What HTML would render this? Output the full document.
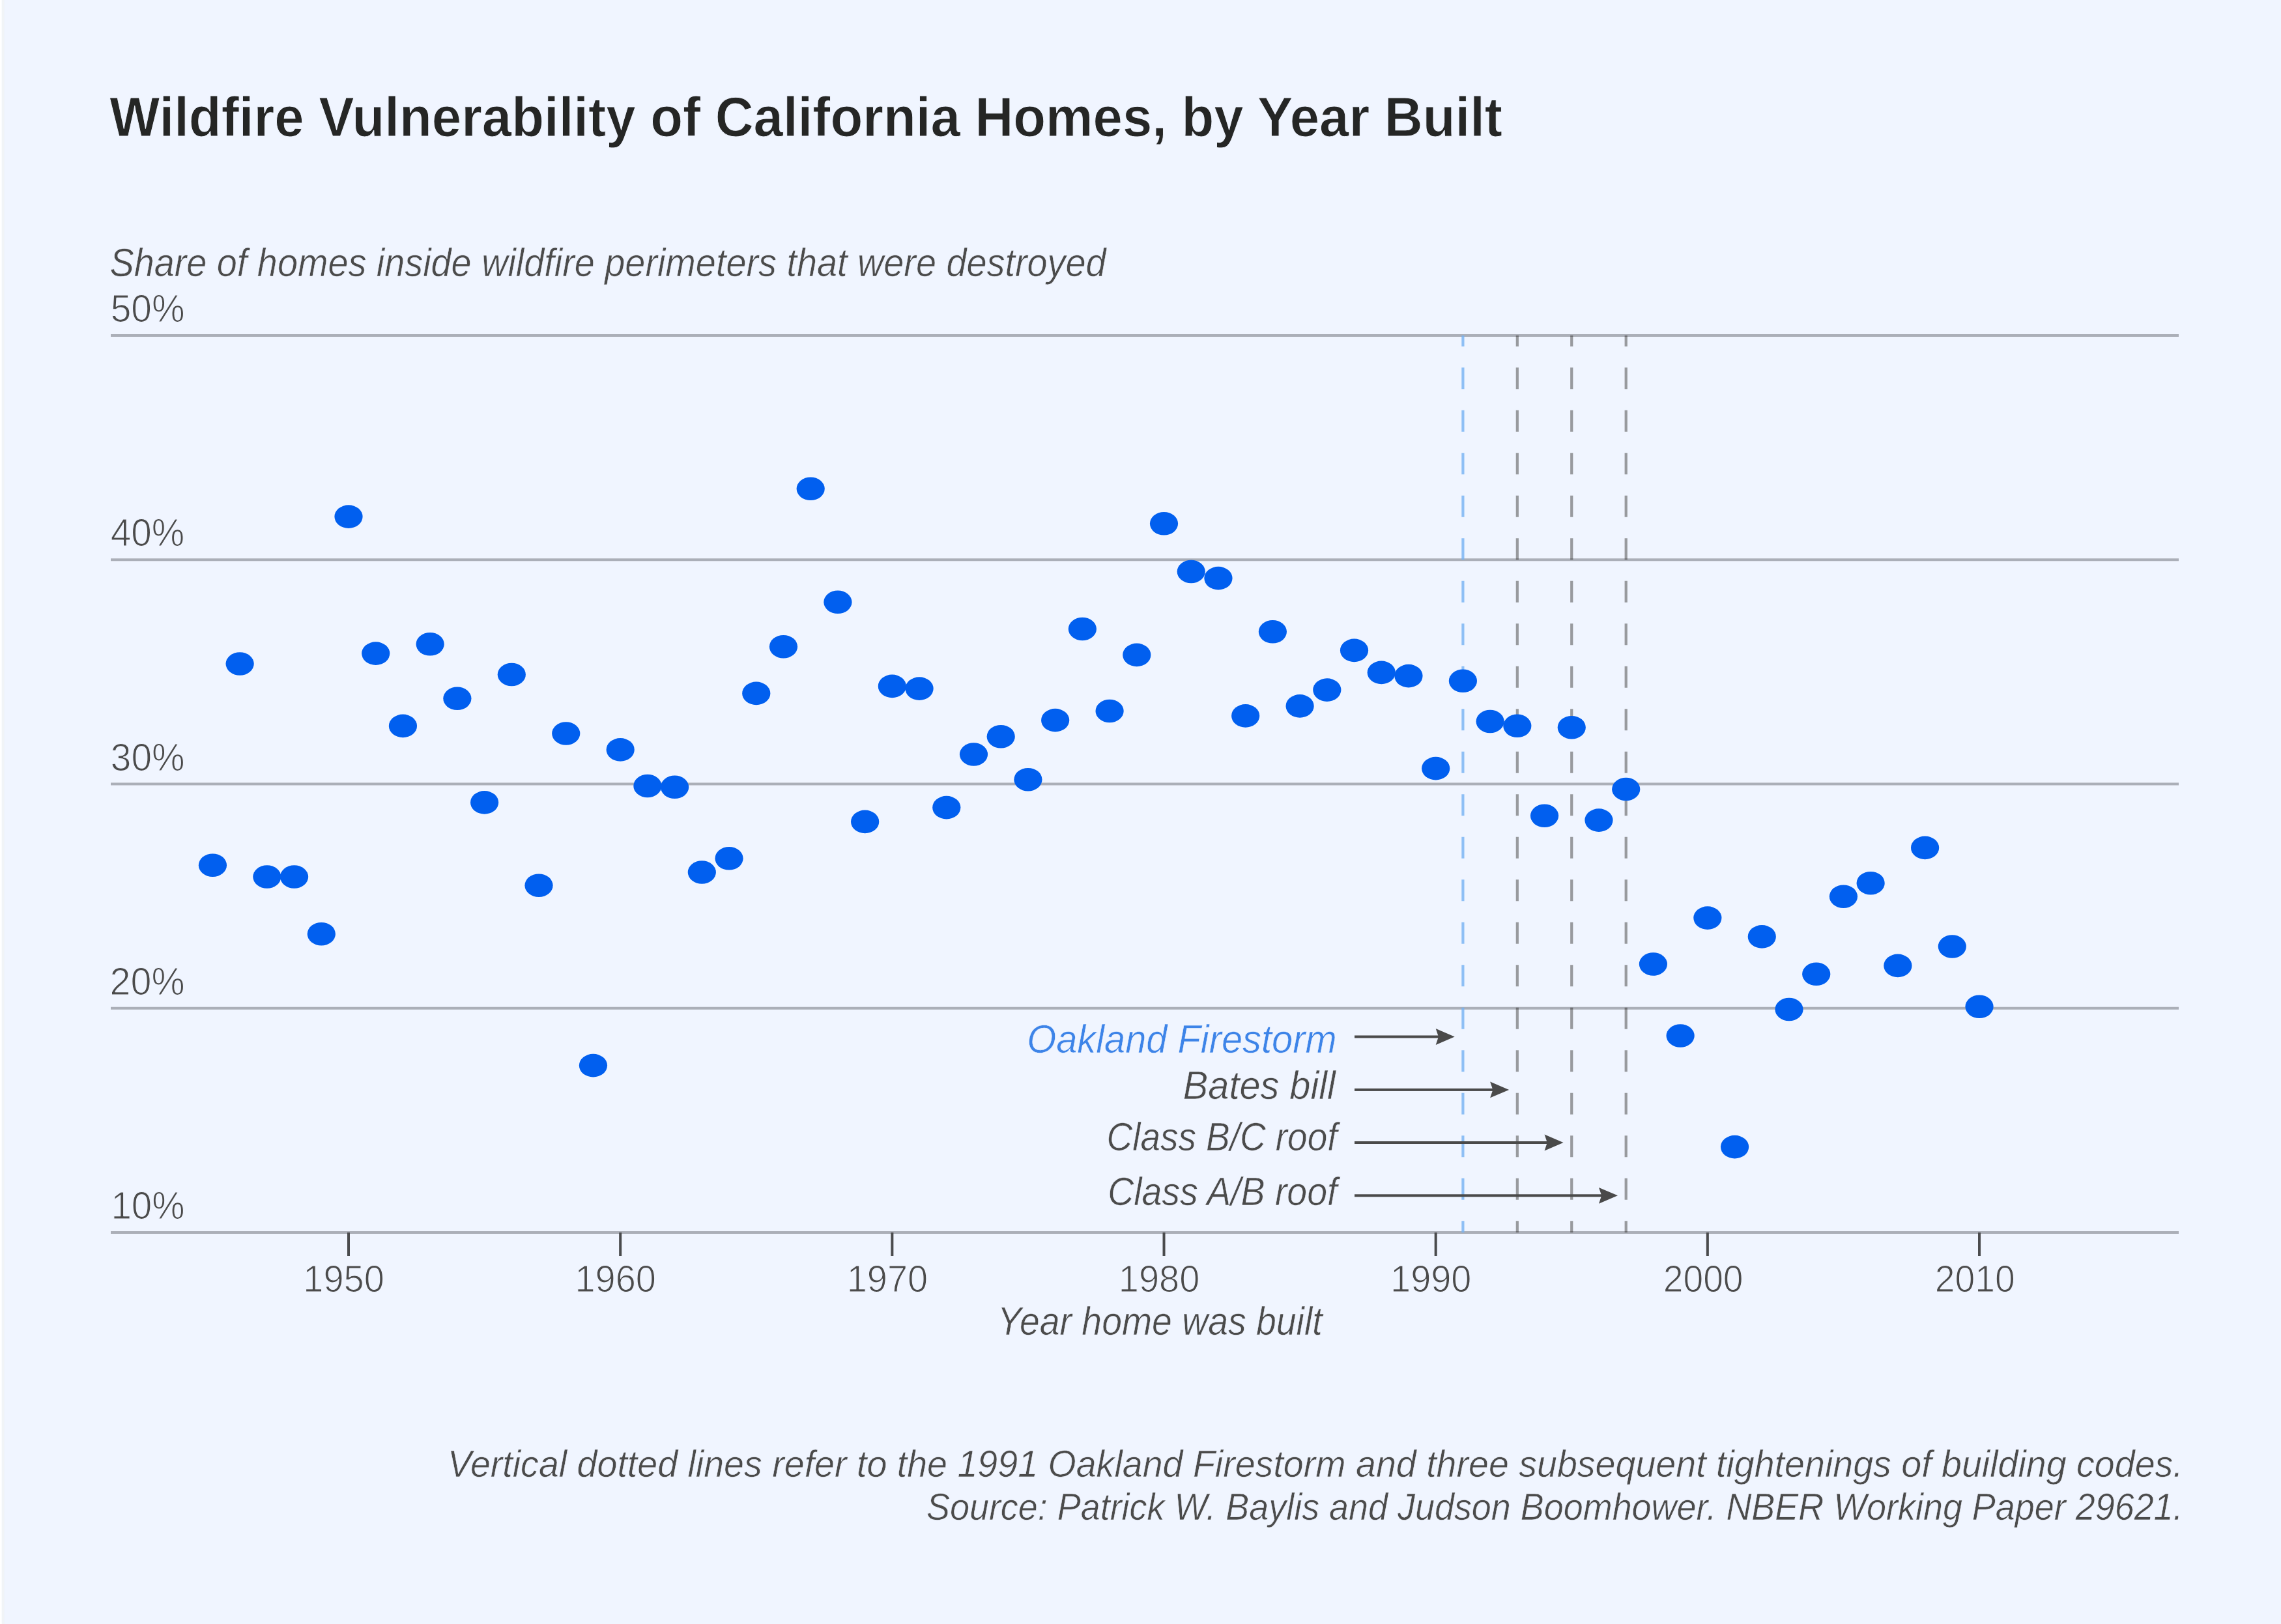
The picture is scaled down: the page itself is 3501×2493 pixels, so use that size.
<!DOCTYPE html>
<html><head><meta charset="utf-8"><title>Wildfire Vulnerability of California Homes, by Year Built</title>
<style>
html,body{margin:0;padding:0;background:#F0F5FF;}
body{width:3501px;height:2493px;overflow:hidden;}
svg{display:block;}
text{font-family:"Liberation Sans",Arial,sans-serif;}
</style></head><body>
<svg width="3501" height="2493" viewBox="0 0 3501 2493">
<rect x="0" y="0" width="3501" height="2493" fill="#F0F5FF"/>
<rect x="0" y="0" width="2.8" height="2493" fill="#FFFFFF"/><rect x="2.8" y="0" width="3.8" height="2493" fill="#F1F4F7"/><rect x="6.6" y="0" width="1.4" height="2493" fill="#EEF4FD"/>
<rect x="170" y="513.00" width="3174" height="4" fill="#ABAFB8"/>
<rect x="170" y="857.25" width="3174" height="4" fill="#ABAFB8"/>
<rect x="170" y="1201.50" width="3174" height="4" fill="#ABAFB8"/>
<rect x="170" y="1545.75" width="3174" height="4" fill="#ABAFB8"/>
<rect x="170" y="1890.00" width="3174" height="4" fill="#ABAFB8"/>
<line x1="2245.40" y1="515" x2="2245.40" y2="1892" stroke="#76B2F2" stroke-opacity="0.80" stroke-width="4.2" stroke-dasharray="32.9 32.6" stroke-dashoffset="16.2"/>
<line x1="2328.83" y1="515" x2="2328.83" y2="1892" stroke="#1E1C18" stroke-opacity="0.42" stroke-width="4.2" stroke-dasharray="32.9 32.6" stroke-dashoffset="16.2"/>
<line x1="2412.26" y1="515" x2="2412.26" y2="1892" stroke="#1E1C18" stroke-opacity="0.42" stroke-width="4.2" stroke-dasharray="32.9 32.6" stroke-dashoffset="16.2"/>
<line x1="2495.70" y1="515" x2="2495.70" y2="1892" stroke="#1E1C18" stroke-opacity="0.42" stroke-width="4.2" stroke-dasharray="32.9 32.6" stroke-dashoffset="16.2"/>
<rect x="533.00" y="1892" width="4" height="36" fill="#4A4B4D"/>
<rect x="950.17" y="1892" width="4" height="36" fill="#4A4B4D"/>
<rect x="1367.34" y="1892" width="4" height="36" fill="#4A4B4D"/>
<rect x="1784.51" y="1892" width="4" height="36" fill="#4A4B4D"/>
<rect x="2201.68" y="1892" width="4" height="36" fill="#4A4B4D"/>
<rect x="2618.85" y="1892" width="4" height="36" fill="#4A4B4D"/>
<rect x="3036.02" y="1892" width="4" height="36" fill="#4A4B4D"/>
<rect x="2079" y="1589.50" width="133.70" height="4" fill="#4A4A4A"/>
<path d="M2232.70 1591.50 L2203.70 1579.10 L2207.90 1591.50 L2203.70 1603.90 Z" fill="#4A4A4A"/>
<rect x="2079" y="1670.90" width="217.13" height="4" fill="#4A4A4A"/>
<path d="M2316.13 1672.90 L2287.13 1660.50 L2291.33 1672.90 L2287.13 1685.30 Z" fill="#4A4A4A"/>
<rect x="2079" y="1752.00" width="300.57" height="4" fill="#4A4A4A"/>
<path d="M2399.57 1754.00 L2370.57 1741.60 L2374.76 1754.00 L2370.57 1766.40 Z" fill="#4A4A4A"/>
<rect x="2079" y="1833.30" width="384.00" height="4" fill="#4A4A4A"/>
<path d="M2483.00 1835.30 L2454.00 1822.90 L2458.20 1835.30 L2454.00 1847.70 Z" fill="#4A4A4A"/>
<ellipse cx="326.42" cy="1328.20" rx="21.6" ry="17.8" fill="#015FEF"/>
<ellipse cx="368.13" cy="1019.00" rx="21.6" ry="17.8" fill="#015FEF"/>
<ellipse cx="409.85" cy="1346.00" rx="21.6" ry="17.8" fill="#015FEF"/>
<ellipse cx="451.57" cy="1346.00" rx="21.6" ry="17.8" fill="#015FEF"/>
<ellipse cx="493.28" cy="1433.70" rx="21.6" ry="17.8" fill="#015FEF"/>
<ellipse cx="535.00" cy="793.10" rx="21.6" ry="17.8" fill="#015FEF"/>
<ellipse cx="576.72" cy="1003.10" rx="21.6" ry="17.8" fill="#015FEF"/>
<ellipse cx="618.43" cy="1114.40" rx="21.6" ry="17.8" fill="#015FEF"/>
<ellipse cx="660.15" cy="988.80" rx="21.6" ry="17.8" fill="#015FEF"/>
<ellipse cx="701.87" cy="1072.30" rx="21.6" ry="17.8" fill="#015FEF"/>
<ellipse cx="743.59" cy="1231.90" rx="21.6" ry="17.8" fill="#015FEF"/>
<ellipse cx="785.30" cy="1035.50" rx="21.6" ry="17.8" fill="#015FEF"/>
<ellipse cx="827.02" cy="1359.20" rx="21.6" ry="17.8" fill="#015FEF"/>
<ellipse cx="868.74" cy="1126.00" rx="21.6" ry="17.8" fill="#015FEF"/>
<ellipse cx="910.45" cy="1635.60" rx="21.6" ry="17.8" fill="#015FEF"/>
<ellipse cx="952.17" cy="1150.90" rx="21.6" ry="17.8" fill="#015FEF"/>
<ellipse cx="993.89" cy="1206.50" rx="21.6" ry="17.8" fill="#015FEF"/>
<ellipse cx="1035.60" cy="1208.30" rx="21.6" ry="17.8" fill="#015FEF"/>
<ellipse cx="1077.32" cy="1339.00" rx="21.6" ry="17.8" fill="#015FEF"/>
<ellipse cx="1119.04" cy="1317.80" rx="21.6" ry="17.8" fill="#015FEF"/>
<ellipse cx="1160.76" cy="1064.40" rx="21.6" ry="17.8" fill="#015FEF"/>
<ellipse cx="1202.47" cy="992.70" rx="21.6" ry="17.8" fill="#015FEF"/>
<ellipse cx="1244.19" cy="750.30" rx="21.6" ry="17.8" fill="#015FEF"/>
<ellipse cx="1285.91" cy="924.30" rx="21.6" ry="17.8" fill="#015FEF"/>
<ellipse cx="1327.62" cy="1261.40" rx="21.6" ry="17.8" fill="#015FEF"/>
<ellipse cx="1369.34" cy="1053.40" rx="21.6" ry="17.8" fill="#015FEF"/>
<ellipse cx="1411.06" cy="1057.10" rx="21.6" ry="17.8" fill="#015FEF"/>
<ellipse cx="1452.77" cy="1239.60" rx="21.6" ry="17.8" fill="#015FEF"/>
<ellipse cx="1494.49" cy="1158.00" rx="21.6" ry="17.8" fill="#015FEF"/>
<ellipse cx="1536.21" cy="1130.70" rx="21.6" ry="17.8" fill="#015FEF"/>
<ellipse cx="1577.92" cy="1196.70" rx="21.6" ry="17.8" fill="#015FEF"/>
<ellipse cx="1619.64" cy="1105.60" rx="21.6" ry="17.8" fill="#015FEF"/>
<ellipse cx="1661.36" cy="965.50" rx="21.6" ry="17.8" fill="#015FEF"/>
<ellipse cx="1703.08" cy="1091.50" rx="21.6" ry="17.8" fill="#015FEF"/>
<ellipse cx="1744.79" cy="1005.40" rx="21.6" ry="17.8" fill="#015FEF"/>
<ellipse cx="1786.51" cy="803.80" rx="21.6" ry="17.8" fill="#015FEF"/>
<ellipse cx="1828.23" cy="877.50" rx="21.6" ry="17.8" fill="#015FEF"/>
<ellipse cx="1869.94" cy="887.60" rx="21.6" ry="17.8" fill="#015FEF"/>
<ellipse cx="1911.66" cy="1098.90" rx="21.6" ry="17.8" fill="#015FEF"/>
<ellipse cx="1953.38" cy="969.80" rx="21.6" ry="17.8" fill="#015FEF"/>
<ellipse cx="1995.10" cy="1083.90" rx="21.6" ry="17.8" fill="#015FEF"/>
<ellipse cx="2036.81" cy="1059.10" rx="21.6" ry="17.8" fill="#015FEF"/>
<ellipse cx="2078.53" cy="998.40" rx="21.6" ry="17.8" fill="#015FEF"/>
<ellipse cx="2120.25" cy="1032.40" rx="21.6" ry="17.8" fill="#015FEF"/>
<ellipse cx="2161.96" cy="1037.60" rx="21.6" ry="17.8" fill="#015FEF"/>
<ellipse cx="2203.68" cy="1179.60" rx="21.6" ry="17.8" fill="#015FEF"/>
<ellipse cx="2245.40" cy="1045.30" rx="21.6" ry="17.8" fill="#015FEF"/>
<ellipse cx="2287.11" cy="1107.50" rx="21.6" ry="17.8" fill="#015FEF"/>
<ellipse cx="2328.83" cy="1114.30" rx="21.6" ry="17.8" fill="#015FEF"/>
<ellipse cx="2370.55" cy="1252.30" rx="21.6" ry="17.8" fill="#015FEF"/>
<ellipse cx="2412.26" cy="1116.70" rx="21.6" ry="17.8" fill="#015FEF"/>
<ellipse cx="2453.98" cy="1259.10" rx="21.6" ry="17.8" fill="#015FEF"/>
<ellipse cx="2495.70" cy="1211.50" rx="21.6" ry="17.8" fill="#015FEF"/>
<ellipse cx="2537.42" cy="1480.00" rx="21.6" ry="17.8" fill="#015FEF"/>
<ellipse cx="2579.13" cy="1590.00" rx="21.6" ry="17.8" fill="#015FEF"/>
<ellipse cx="2620.85" cy="1409.10" rx="21.6" ry="17.8" fill="#015FEF"/>
<ellipse cx="2662.57" cy="1760.60" rx="21.6" ry="17.8" fill="#015FEF"/>
<ellipse cx="2704.28" cy="1437.90" rx="21.6" ry="17.8" fill="#015FEF"/>
<ellipse cx="2746.00" cy="1549.50" rx="21.6" ry="17.8" fill="#015FEF"/>
<ellipse cx="2787.72" cy="1495.30" rx="21.6" ry="17.8" fill="#015FEF"/>
<ellipse cx="2829.43" cy="1376.20" rx="21.6" ry="17.8" fill="#015FEF"/>
<ellipse cx="2871.15" cy="1355.70" rx="21.6" ry="17.8" fill="#015FEF"/>
<ellipse cx="2912.87" cy="1482.40" rx="21.6" ry="17.8" fill="#015FEF"/>
<ellipse cx="2954.59" cy="1301.40" rx="21.6" ry="17.8" fill="#015FEF"/>
<ellipse cx="2996.30" cy="1453.00" rx="21.6" ry="17.8" fill="#015FEF"/>
<ellipse cx="3038.02" cy="1545.30" rx="21.6" ry="17.8" fill="#015FEF"/>
<text id="title" x="168.32" y="209.00" font-size="86.00" fill="#252625" font-weight="bold" stroke="#F0F5FF" stroke-width="1.00" stroke-linejoin="round" textLength="2137.67" lengthAdjust="spacingAndGlyphs">Wildfire Vulnerability of California Homes, by Year Built</text>
<text id="subtitle" x="168.42" y="423.60" font-size="61.00" fill="#4B4B4B" font-style="italic" stroke="#F0F5FF" stroke-width="0.60" stroke-linejoin="round" textLength="1529.11" lengthAdjust="spacingAndGlyphs">Share of homes inside wildfire perimeters that were destroyed</text>
<text id="y50" x="169.72" y="494.20" font-size="59.00" fill="#4B4B4B" stroke="#F0F5FF" stroke-width="1.20" stroke-linejoin="round" textLength="113.80" lengthAdjust="spacingAndGlyphs">50%</text>
<text id="y40" x="169.70" y="838.20" font-size="59.00" fill="#4B4B4B" stroke="#F0F5FF" stroke-width="1.20" stroke-linejoin="round" textLength="113.52" lengthAdjust="spacingAndGlyphs">40%</text>
<text id="y30" x="169.84" y="1182.60" font-size="59.00" fill="#4B4B4B" stroke="#F0F5FF" stroke-width="1.20" stroke-linejoin="round" textLength="113.69" lengthAdjust="spacingAndGlyphs">30%</text>
<text id="y20" x="168.61" y="1526.80" font-size="59.00" fill="#4B4B4B" stroke="#F0F5FF" stroke-width="1.20" stroke-linejoin="round" textLength="114.93" lengthAdjust="spacingAndGlyphs">20%</text>
<text id="y10" x="170.39" y="1871.00" font-size="59.00" fill="#4B4B4B" stroke="#F0F5FF" stroke-width="1.20" stroke-linejoin="round" textLength="113.12" lengthAdjust="spacingAndGlyphs">10%</text>
<text id="x1950" x="465.34" y="1983.00" font-size="58.00" fill="#4B4B4B" stroke="#F0F5FF" stroke-width="1.20" stroke-linejoin="round" textLength="124.45" lengthAdjust="spacingAndGlyphs">1950</text>
<text id="x1960" x="882.51" y="1983.00" font-size="58.00" fill="#4B4B4B" stroke="#F0F5FF" stroke-width="1.20" stroke-linejoin="round" textLength="124.45" lengthAdjust="spacingAndGlyphs">1960</text>
<text id="x1970" x="1299.68" y="1983.00" font-size="58.00" fill="#4B4B4B" stroke="#F0F5FF" stroke-width="1.20" stroke-linejoin="round" textLength="124.45" lengthAdjust="spacingAndGlyphs">1970</text>
<text id="x1980" x="1716.85" y="1983.00" font-size="58.00" fill="#4B4B4B" stroke="#F0F5FF" stroke-width="1.20" stroke-linejoin="round" textLength="124.45" lengthAdjust="spacingAndGlyphs">1980</text>
<text id="x1990" x="2134.02" y="1983.00" font-size="58.00" fill="#4B4B4B" stroke="#F0F5FF" stroke-width="1.20" stroke-linejoin="round" textLength="124.45" lengthAdjust="spacingAndGlyphs">1990</text>
<text id="x2000" x="2552.67" y="1983.00" font-size="58.00" fill="#4B4B4B" stroke="#F0F5FF" stroke-width="1.20" stroke-linejoin="round" textLength="122.94" lengthAdjust="spacingAndGlyphs">2000</text>
<text id="x2010" x="2969.84" y="1983.00" font-size="58.00" fill="#4B4B4B" stroke="#F0F5FF" stroke-width="1.20" stroke-linejoin="round" textLength="122.94" lengthAdjust="spacingAndGlyphs">2010</text>
<text id="xlabel" x="1531.08" y="2049.20" font-size="61.00" fill="#4B4B4B" font-style="italic" stroke="#F0F5FF" stroke-width="0.60" stroke-linejoin="round" textLength="498.52" lengthAdjust="spacingAndGlyphs">Year home was built</text>
<text id="a1" x="1576.27" y="1616.30" font-size="61.00" fill="#3D84E8" font-style="italic" stroke="#F0F5FF" stroke-width="0.60" stroke-linejoin="round" textLength="475.31" lengthAdjust="spacingAndGlyphs">Oakland Firestorm</text>
<text id="a2" x="1815.83" y="1687.40" font-size="61.00" fill="#4B4B4B" font-style="italic" stroke="#F0F5FF" stroke-width="0.60" stroke-linejoin="round" textLength="234.08" lengthAdjust="spacingAndGlyphs">Bates bill</text>
<text id="a3" x="1698.57" y="1765.50" font-size="61.00" fill="#4B4B4B" font-style="italic" stroke="#F0F5FF" stroke-width="0.60" stroke-linejoin="round" textLength="353.88" lengthAdjust="spacingAndGlyphs">Class B/C roof</text>
<text id="a4" x="1700.16" y="1850.00" font-size="61.00" fill="#4B4B4B" font-style="italic" stroke="#F0F5FF" stroke-width="0.60" stroke-linejoin="round" textLength="352.28" lengthAdjust="spacingAndGlyphs">Class A/B roof</text>
<text id="f1" x="686.90" y="2266.50" font-size="58.00" fill="#4B4B4B" font-style="italic" stroke="#F0F5FF" stroke-width="0.60" stroke-linejoin="round" textLength="2663.90" lengthAdjust="spacingAndGlyphs">Vertical dotted lines refer to the 1991 Oakland Firestorm and three subsequent tightenings of building codes.</text>
<text id="f2" x="1421.98" y="2332.70" font-size="58.00" fill="#4B4B4B" font-style="italic" stroke="#F0F5FF" stroke-width="0.60" stroke-linejoin="round" textLength="1928.62" lengthAdjust="spacingAndGlyphs">Source: Patrick W. Baylis and Judson Boomhower. NBER Working Paper 29621.</text>
</svg>
</body></html>
